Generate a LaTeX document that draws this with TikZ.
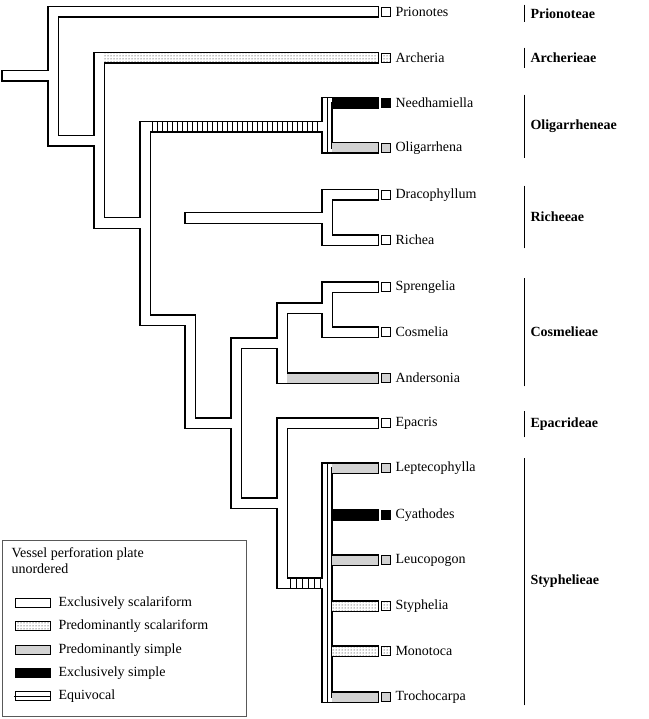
\documentclass[tikz,border=0pt]{standalone}
\usepackage{fontspec}
\setmainfont{Liberation Serif}
\usetikzlibrary{patterns,calc}
\newcommand{\treepaths}{%
  \draw[br] (7,76) -- (53,76);
  \draw[br] (373,12) -- (53,12) -- (53,141) -- (99,141);
  \draw[br] (373,58) -- (99,58) -- (99,223) -- (145,223);
  \draw[br] (322,127) -- (145,127) -- (145,320) -- (190,320);
  \draw[br] (373,103) -- (327,103) -- (327,148) -- (373,148);
  \draw[br] (190,218) -- (327,218);
  \draw[br] (373,195) -- (327,195) -- (327,240) -- (373,240);
  \draw[br] (190,320) -- (190,423) -- (236,423);
  \draw[br] (282,343) -- (236,343) -- (236,503) -- (282,503);
  \draw[br] (327,308) -- (282,308) -- (282,378) -- (373,378);
  \draw[br] (373,287) -- (327,287) -- (327,332) -- (373,332);
  \draw[br] (373,423) -- (282,423) -- (282,583) -- (322,583);
  \draw[br] (373,468) -- (327,468) -- (327,697) -- (373,697);
  \foreach \y in {515,560,606,651} {\draw[br] (327,\y) -- (373,\y);}
}
\tikzset{
  taxon/.style={anchor=west, font=\fontsize{14}{16}\selectfont},
  tribe/.style={anchor=west, font=\fontsize{14}{16}\selectfont\bfseries},
  tip/.style={draw, line width=0.8pt, minimum width=9pt, minimum height=9pt, inner sep=0pt},
  scal/.style={fill=white},
  pscal/.style={pattern=dots},
  psimp/.style={fill=gray!35},
  esimp/.style={fill=black},
}
\begin{document}
\begin{tikzpicture}[x=1pt, y=-1pt, line join=miter, line cap=rect]
\useasboundingbox (0,0) rectangle (648,719);
% tubes: outline pass, then inside pass
\tikzset{br/.style={line width=11.4pt, draw=black}}
\treepaths
\tikzset{br/.style={line width=9pt, draw=white}}
\treepaths
% patterned stretches
\fill[pscal] (104,53.5) rectangle (377.5,62.5);
\fill[esimp] (332,98.5) rectangle (377.5,107.5);
\fill[psimp] (332,143.5) rectangle (377.5,152.5);
\fill[psimp] (287,373.5) rectangle (377.5,382.5);
\fill[psimp] (332,463.5) rectangle (377.5,472.5);
\fill[esimp] (332,510.5) rectangle (377.5,519.5);
\fill[psimp] (332,555.5) rectangle (377.5,564.5);
\fill[pscal] (332,601.5) rectangle (377.5,610.5);
\fill[pscal] (332,646.5) rectangle (377.5,655.5);
\fill[psimp] (332,692.5) rectangle (377.5,701.5);
% equivocal stretches
\foreach \x in {152,157,...,320} {\draw[line width=0.6pt] (\x,122.5) -- (\x,131.5);}
\foreach \x in {290,296,...,320} {\draw[line width=0.6pt] (\x,578.5) -- (\x,587.5);}
\draw[line width=0.6pt] (327,98.5) -- (327,152.5);
\draw[line width=0.6pt] (327,463.5) -- (327,701.5);
\draw[line width=1.6pt] (331.5,103) -- (331.5,148);
\draw[line width=1.6pt] (331.5,468) -- (331.5,697);
% tips and names
\foreach \n/\y/\s/\t in {prio/12/scal/Prionotes, arch/58/pscal/Archeria,
  need/103/esimp/Needhamiella, olig/148/psimp/Oligarrhena,
  drac/195/scal/Dracophyllum, rich/240/scal/Richea,
  spre/287/scal/Sprengelia, cosm/332/scal/Cosmelia, ande/378/psimp/Andersonia,
  epac/423/scal/Epacris, lept/468/psimp/Leptecophylla, cyat/515/esimp/Cyathodes,
  leuc/560/psimp/Leucopogon, styp/606/pscal/Styphelia, mono/651/pscal/Monotoca,
  troc/697/psimp/Trochocarpa} {
  \node[tip, \s] (box-\n) at (385.5,\y) {};
  \node[taxon] (lab-\n) at (392,\y) {\t};
}
% tribes
\foreach \n/\a/\b/\t in {prio/5/22/Prionoteae, arch/48/68/Archerieae,
  olig/95/158/Oligarrheneae, rich/186/248/Richeeae, cosm/278/386/Cosmelieae,
  epac/411/437/Epacrideae, styp/458/705/Styphelieae} {
  \coordinate (t-\n-a) at (524,\a);
  \coordinate (t-\n-b) at (524,\b);
  \draw[line width=0.8pt] (t-\n-a) -- (t-\n-b);
  \node[tribe] (tribe-\n) at ($ (t-\n-a)!0.5!(t-\n-b) + (3,0) $) {\t};
}
% legend
\draw[line width=0.7pt, gray!70!black] (2,540) rectangle (246,716);
\node[taxon, anchor=north west, align=left] (legtitle) at (8,544)
  {Vessel perforation plate\\unordered};
\foreach \n/\y/\s/\t in {a/603/scal/Exclusively scalariform,
  b/626/pscal/Predominantly scalariform, c/650/psimp/Predominantly simple,
  d/673/esimp/Exclusively simple, e/696/scal/Equivocal} {
  \node[tip, \s, minimum width=35pt] (key-\n) at (32.5,\y) {};
  \node[taxon] (keylab-\n) at (55,\y) {\t};
}
\draw[line width=0.6pt] (key-e.west) -- (key-e.east);
\end{tikzpicture}
\end{document}
